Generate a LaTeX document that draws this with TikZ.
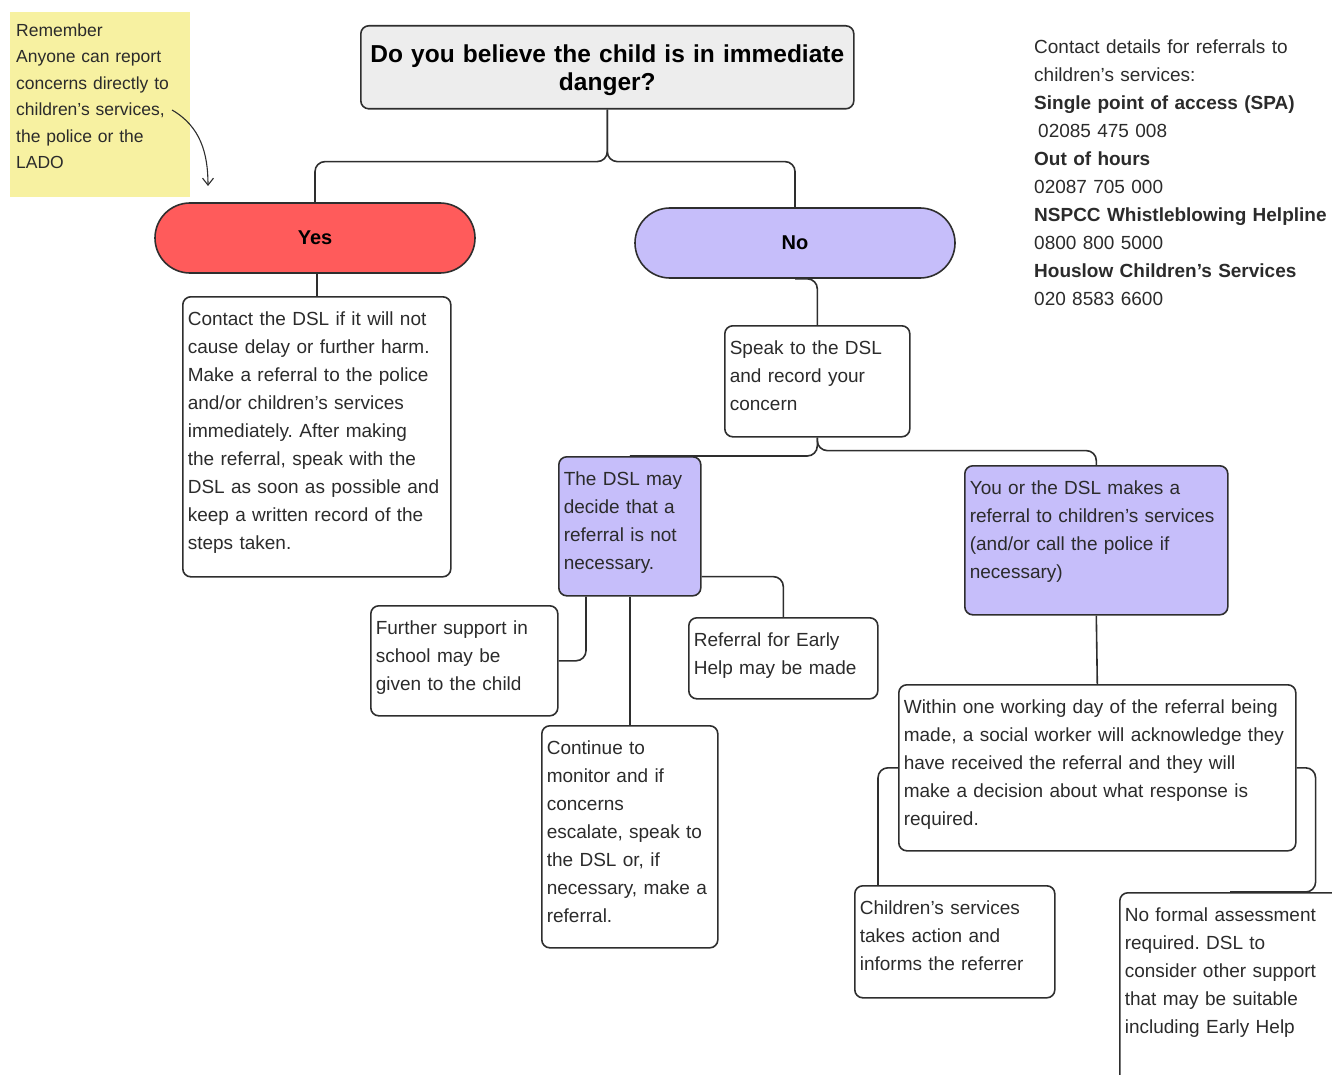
\documentclass[tikz,border=0pt]{standalone}
\usepackage{fontspec}
\setmainfont{Liberation Sans}
\usetikzlibrary{arrows.meta}
\frenchspacing

\definecolor{linec}{HTML}{2E2E2E}
\definecolor{txtc}{HTML}{2B2B2B}
\definecolor{yesred}{HTML}{FF5B5B}
\definecolor{nolilac}{HTML}{C6BEFA}
\definecolor{qgrey}{HTML}{EDEDED}
\definecolor{noteyel}{HTML}{F7F1A1}

\tikzset{
  card/.style={draw=linec, line width=1.6pt, rounded corners=8pt, anchor=north west,
    align=left, inner xsep=5pt, inner ysep=0pt, text height=28.5pt, text=txtc,
    font=\fontsize{19}{28}\selectfont},
  pill/.style={draw=linec, line width=1.6pt, rounded corners=35pt, minimum width=320pt,
    minimum height=70pt, text=black, font=\fontsize{20}{24}\selectfont\bfseries},
  link/.style={draw=linec, line width=1.6pt, rounded corners=10pt},
}

\begin{document}
\begin{tikzpicture}[x=1pt, y=-1pt]
\useasboundingbox (0,0) rectangle (1332,1075);
\clip (0,0) rectangle (1332,1075);

\node[fill=noteyel, anchor=north west, align=left, inner xsep=6pt, inner ysep=0pt,
  text width=168pt, text height=24pt, text depth=161pt, text=txtc,
  font=\fontsize{17.5}{26.5}\selectfont] (note) at (10,12)
  {Remember\\Anyone can report\\concerns directly to\\children’s services,\\the police or the\\LADO};

\node[draw=linec, line width=1.6pt, fill=qgrey, rounded corners=8pt, anchor=north west,
  align=center, inner xsep=5pt, inner ysep=0pt, text width=483pt, text height=37pt,
  text depth=46pt, font=\fontsize{24.5}{28}\selectfont\bfseries] (q) at (360,25)
  {Do you believe the child is in immediate\\danger?};

\node[anchor=north west, align=left, inner sep=0pt, text width=300pt, text height=20pt,
  text=txtc, font=\fontsize{19}{28}\selectfont] (contact) at (1034,33)
  {Contact details for referrals to\\children’s services:\\\textbf{Single point of access (SPA)}\\\hspace*{4pt}02085 475 008\\\textbf{Out of hours}\\02087 705 000\\\textbf{NSPCC Whistleblowing Helpline}\\0800 800 5000\\\textbf{Houslow Children’s Services}\\020 8583 6600};

\node[pill, fill=yesred] (yes) at (315,238) {Yes};
\node[pill, fill=nolilac] (no) at (795,243) {No};

\node[card, text width=258pt, text depth=251.5pt] (act) at (182,296)
  {Contact the DSL if it will not\\cause delay or further harm.\\Make a referral to the police\\and/or children’s services\\immediately. After making\\the referral, speak with the\\DSL as soon as possible and\\keep a written record of the\\steps taken.};
\node[card, text width=175pt, text depth=82.5pt] (speak) at (724,325)
  {Speak to the DSL\\and record your\\concern};
\node[card, fill=nolilac, text width=132pt, text depth=110.5pt] (dslno) at (558,456)
  {The DSL may\\decide that a\\referral is not\\necessary.};
\node[card, fill=nolilac, text width=253pt, text depth=120.5pt] (you) at (964,465)
  {You or the DSL makes a\\referral to children’s services\\(and/or call the police if\\necessary)};
\node[card, text width=177pt, text depth=81.5pt] (further) at (370,605)
  {Further support in\\school may be\\given to the child};
\node[card, text width=179pt, text depth=52.5pt] (early) at (688,617)
  {Referral for Early\\Help may be made};
\node[card, text width=166pt, text depth=193.5pt] (cont) at (541,725)
  {Continue to\\monitor and if\\concerns\\escalate, speak to\\the DSL or, if\\necessary, make a\\referral.};
\node[card, text width=387pt, text depth=137.5pt] (within) at (898,684)
  {Within one working day of the referral being\\made, a social worker will acknowledge they\\have received the referral and they will\\make a decision about what response is\\required.};
\node[card, text width=190pt, text depth=83.5pt] (kids) at (854,885)
  {Children’s services\\takes action and\\informs the referrer};
\node[card, text width=230pt, text depth=171.5pt] (nform) at (1119,892)
  {No formal assessment\\required. DSL to\\consider other support\\that may be suitable\\including Early Help};

\coordinate (remstart) at (172,110);
\coordinate (remend) at (208,186);
\draw[draw=linec, line width=1.1pt, -{Straight Barb[length=7pt, width=11pt]}]
  (remstart) to[out=-30, in=90] (remend);

\draw[link] (q.south) -- ++(0,52) -| (yes.north);
\draw[link] (q.south) -- ++(0,52) -| (no.north);
\draw[link] (act.north |- yes.south) -- (act.north);
\draw[link] (no.south) -| (speak.north);
\draw[link] (speak.south) |- (dslno.north);
\draw[link] (speak.south) -- ++(0,13) -| (you.north);
\draw[link] ([xshift=28pt]dslno.south west) |- (further.east);
\draw[link] (dslno.south) -- (cont.north);
\draw[link] ([yshift=20pt]dslno.south east) -| (early.north);
\draw[link] (you.south) -- (within.north);
\draw[link] (within.west) -| ([xshift=24pt]kids.north west);
\draw[link] (within.east) -- ++(19,0) |- ([xshift=111pt]nform.north west);
\end{tikzpicture}
\end{document}
